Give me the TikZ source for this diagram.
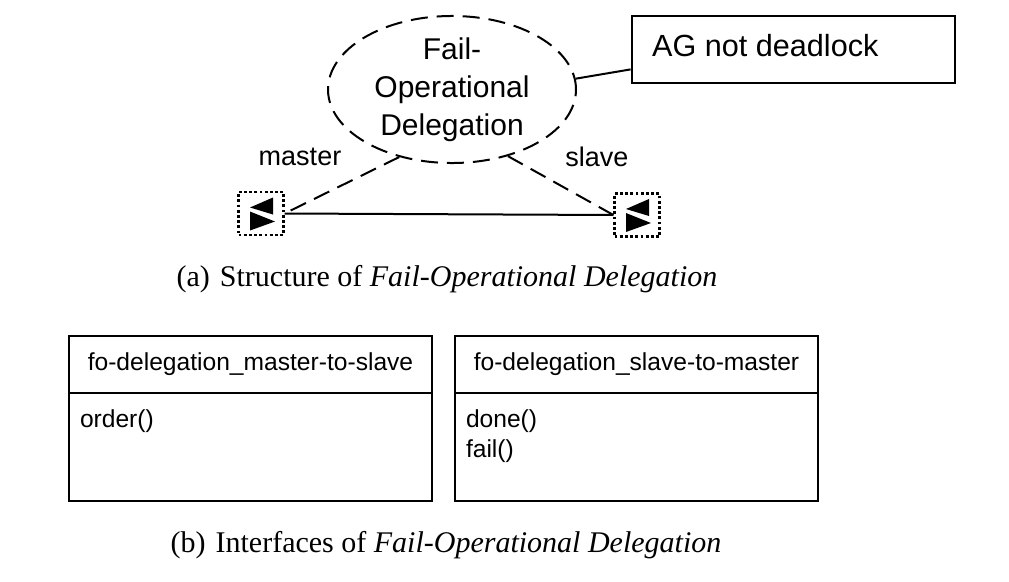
\documentclass[tikz,border=0pt]{standalone}
\usepackage{fontspec}
\setmainfont{Liberation Serif}
\newfontfamily\arialf{Liberation Sans}
\usetikzlibrary{shapes.geometric}
\tikzset{
  sans/.style={font=\arialf\fontsize{#1}{#1}\selectfont},
  ellip/.style={ellipse, draw, line width=2pt, dash pattern=on 17pt off 9pt,
    minimum width=248pt, minimum height=124pt, inner sep=0pt, align=center,
    font=\arialf\fontsize{30}{38}\selectfont},
  notebox/.style={draw, line width=2.8pt, minimum width=323pt, minimum height=67pt,
    inner sep=0pt},
  portbox/.style={draw, line width=2.2pt, dash pattern=on 2.8pt off 2.4pt,
    minimum width=45pt, minimum height=43pt, inner sep=0pt},
  tri/.style={fill=black},
  titlebox/.style={draw, line width=2pt, minimum width=363pt, minimum height=57pt,
    inner sep=0pt, font=\arialf\fontsize{24.6}{28}\selectfont},
  bodybox/.style={minimum width=363pt, minimum height=107pt, inner sep=0pt},
  bodytext/.style={anchor=north west, inner sep=0pt, align=left,
    font=\arialf\fontsize{24.6}{30}\selectfont},
  captionf/.style={font=\fontsize{30}{34}\selectfont, inner sep=0pt},
  conn/.style={line width=2pt},
  dconn/.style={line width=2pt, dash pattern=on 17pt off 9pt}
}
\begin{document}
\begin{tikzpicture}[x=1pt,y=-1pt]
\useasboundingbox (0,0) rectangle (1009,581);

% ellipse
\node[ellip] (E) at (452,89.5) {Fail-\\Operational\\Delegation};

% note
\node[notebox] (N) at (793.5,49.5) {};
\node[sans=30.6, anchor=west, inner sep=0pt] (NT) at (652,46) {AG not deadlock};
\coordinate (Nc) at ([yshift=15pt]N.south west);
\draw[conn] (E.5) -- (Nc);

% ports
\node[portbox] (pL) at (261,213.5) {};
\node[portbox] (pR) at (637,215) {};
\foreach \p in {pL,pR}{
  \fill[tri] ([shift={(12,-16)}]\p.center) -- ([shift={(12,1)}]\p.center) -- ([shift={(-11,-6)}]\p.center) -- cycle;
  \fill[tri] ([shift={(-11,-2)}]\p.center) -- ([shift={(-11,17)}]\p.center) -- ([shift={(14,8)}]\p.center) -- cycle;
}
\draw[conn] (pL.east) -- (pR.west);
\draw[dconn] (E.232) -- (pL.east);
\draw[dconn] (E.310) -- (pR.west);

% role labels
\node[sans=27, inner sep=0pt] (lm) at (300,157) {master};
\node[sans=27, inner sep=0pt] (ls) at (597,157) {slave};

% caption a
\node[captionf] (capa) at (447,279) {(a)\hspace{10pt}Structure of \textit{Fail-Operational Delegation}};

% interface boxes
\node[titlebox] (t1) at (250.5,364.5) {fo-delegation\_master-to-slave};
\node[bodybox, anchor=north] (b1) at (t1.south) {};
\draw[conn] (b1.north west) -- (b1.south west) -- (b1.south east) -- (b1.north east);
\node[bodytext] (o1) at ([shift={(11,15)}]b1.north west) {order()};

\node[titlebox] (t2) at (636.5,364.5) {fo-delegation\_slave-to-master};
\node[bodybox, anchor=north] (b2) at (t2.south) {};
\draw[conn] (b2.north west) -- (b2.south west) -- (b2.south east) -- (b2.north east);
\node[bodytext] (o2) at ([shift={(11,15)}]b2.north west) {done()\\fail()};

% caption b
\node[captionf] (capb) at (446,545) {(b)\hspace{10pt}Interfaces of \textit{Fail-Operational Delegation}};
\end{tikzpicture}
\end{document}
